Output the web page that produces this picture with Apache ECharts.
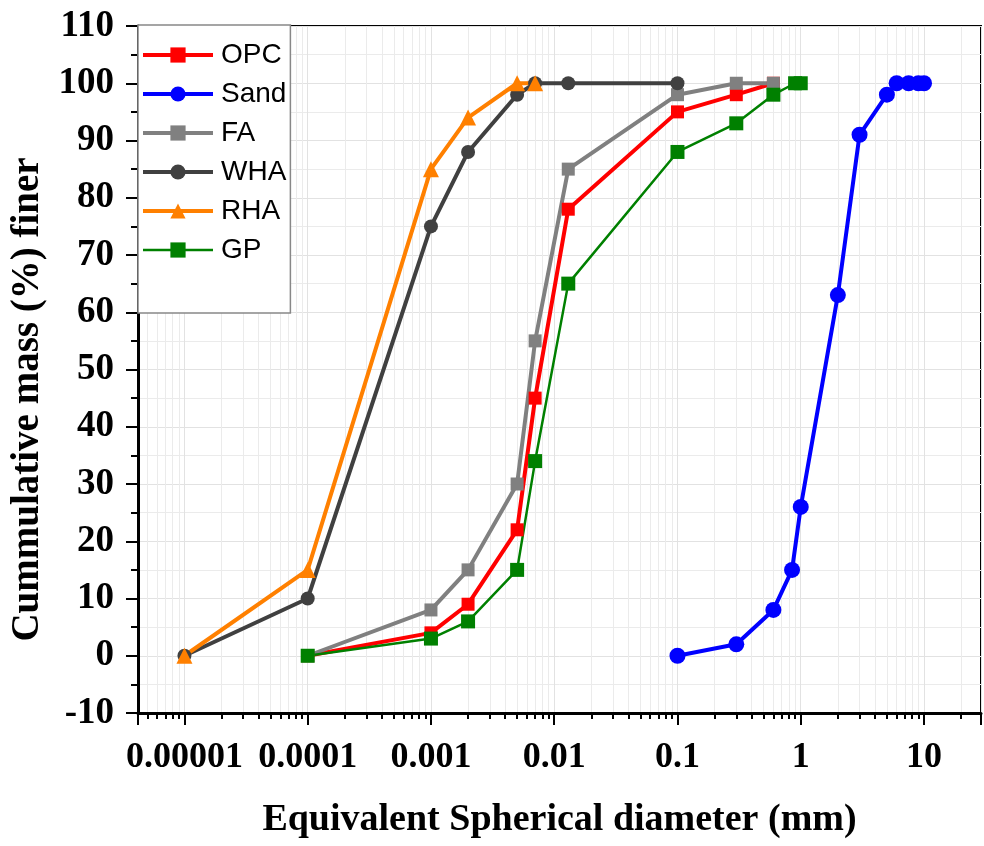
<!DOCTYPE html>
<html>
<head>
<meta charset="utf-8">
<script src="https://cdn.jsdelivr.net/npm/echarts@6/dist/echarts.min.js"></script>
<style>html,body{margin:0;padding:0;background:#fff}#c{width:984px;height:846px}</style>
</head>
<body>
<div id="c"></div>
<script>
// Equivalent spherical diameter (mm) and cumulative mass finer (%)
const opcD = [0.0001, 0.001, 0.002, 0.005, 0.007, 0.013, 0.1, 0.3, 0.6];
const opcP = [0, 4, 9, 22, 45, 78, 95, 98, 100];
const sandD = [0.1, 0.3, 0.6, 0.85, 1, 2, 3, 5, 6, 7.5, 9, 10];
const sandP = [0, 2, 8, 15, 26, 63, 91, 98, 100, 100, 100, 100];
const faD = [0.0001, 0.001, 0.002, 0.005, 0.007, 0.013, 0.1, 0.3, 0.6];
const faP = [0, 8, 15, 30, 55, 85, 98, 100, 100];
const whaD = [0.00001, 0.0001, 0.001, 0.002, 0.005, 0.007, 0.013, 0.1];
const whaP = [0, 10, 75, 88, 98, 100, 100, 100];
const rhaD = [0.00001, 0.0001, 0.001, 0.002, 0.005, 0.007];
const rhaP = [0, 15, 85, 94, 100, 100];
const gpD = [0.0001, 0.001, 0.002, 0.005, 0.007, 0.013, 0.1, 0.3, 0.6, 0.9, 1];
const gpP = [0, 3, 6, 15, 34, 65, 88, 93, 98, 100, 100];
const yTicks = [-10, 0, 10, 20, 30, 40, 50, 60, 70, 80, 90, 100, 110];
const seriesNames = ['OPC', 'Sand', 'FA', 'WHA', 'RHA', 'GP'];
const lineWidths = [4, 4, 4, 4, 4, 2.5];

const zip = (a, b) => a.map((v, i) => [v, b[i]]);
const serif = '"Liberation Serif", "Times New Roman", serif';
const sans = '"Liberation Sans", Arial, sans-serif';

function mk(name, d, p, color, symbol, size, width) {
  return {
    name, type: 'line', data: zip(d, p), symbol, symbolSize: size,
    lineStyle: { color, width }, itemStyle: { color, borderWidth: 0 },
    emphasis: { disabled: true }, z: 3
  };
}

const chart = echarts.init(document.getElementById('c'), null, { renderer: 'canvas' });
chart.setOption({
  animation: false,
  backgroundColor: '#fff',
  grid: { left: 138, right: 2, top: 26, bottom: 133, show: true, borderColor: '#000', borderWidth: 2, backgroundColor: 'transparent' },
  legend: {
    orient: 'vertical', left: 138, top: 25,
    padding: [16, 4, 49, 3],
    itemWidth: 70, itemHeight: 19, itemGap: 11,
    backgroundColor: '#fff', borderColor: '#888', borderWidth: 1.5, borderRadius: 0,
    textStyle: { fontFamily: sans, fontSize: 28, color: '#000', padding: [0, 0, 0, 3] },
    data: seriesNames.map((n, i) => ({ name: n, lineStyle: { width: lineWidths[i] } }))
  },
  xAxis: {
    type: 'log', logBase: 10, min: 4.2e-6, max: 29,
    axisLine: { onZero: false, lineStyle: { color: '#000', width: 3 } },
    axisTick: { length: 12, lineStyle: { color: '#000', width: 2 } },
    minorTick: { show: true, splitNumber: 9, length: 6, lineStyle: { color: '#000', width: 2 } },
    splitLine: { show: true, lineStyle: { color: '#e2e2e2', width: 1 } },
    minorSplitLine: { show: true, lineStyle: { color: '#ebebeb', width: 1 } },
    axisLabel: {
      margin: 27, color: '#000', fontFamily: serif, fontWeight: 'bold', fontSize: 36,
      formatter: function (v) {
        const e = Math.log10(v);
        const r = Math.round(e);
        if (Math.abs(e - r) > 1e-6) return '';
        return Math.pow(10, r).toFixed(Math.max(0, -r));
      }
    },
    name: 'Equivalent Spherical diameter (mm)', nameLocation: 'middle', nameGap: 88,
    nameTextStyle: { fontFamily: serif, fontWeight: 'bold', fontSize: 38, color: '#000' }
  },
  yAxis: {
    type: 'value', min: -10, max: 110, interval: 10,
    axisLine: { show: true, lineStyle: { color: '#000', width: 3 } },
    axisTick: { length: 12, lineStyle: { color: '#000', width: 2 } },
    minorTick: { show: true, splitNumber: 2, length: 7, lineStyle: { color: '#000', width: 2 } },
    splitLine: { show: true, lineStyle: { color: '#e2e2e2', width: 1 } },
    minorSplitLine: { show: true, lineStyle: { color: '#ebebeb', width: 1 } },
    axisLabel: {
      margin: 24, color: '#000', fontFamily: serif, fontWeight: 'bold', fontSize: 37,
      formatter: function (v) { return yTicks.indexOf(v) >= 0 ? String(v) : ''; }
    },
    name: 'Cummulative mass (%) finer', nameLocation: 'middle', nameGap: 88,
    nameTextStyle: { fontFamily: serif, fontWeight: 'bold', fontSize: 39, color: '#000', padding: [0, 60, 0, 0] }
  },
  series: [
    mk('OPC', opcD, opcP, '#ff0000', 'rect', 13, 4),
    mk('Sand', sandD, sandP, '#0000ff', 'circle', 16, 4),
    mk('FA', faD, faP, '#808080', 'rect', 13, 4),
    mk('WHA', whaD, whaP, '#404040', 'circle', 14, 4),
    mk('RHA', rhaD, rhaP, '#ff8000', 'triangle', 16, 4),
    mk('GP', gpD, gpP, '#008000', 'rect', 14, 2.5)
  ]
});
</script>
</body>
</html>
